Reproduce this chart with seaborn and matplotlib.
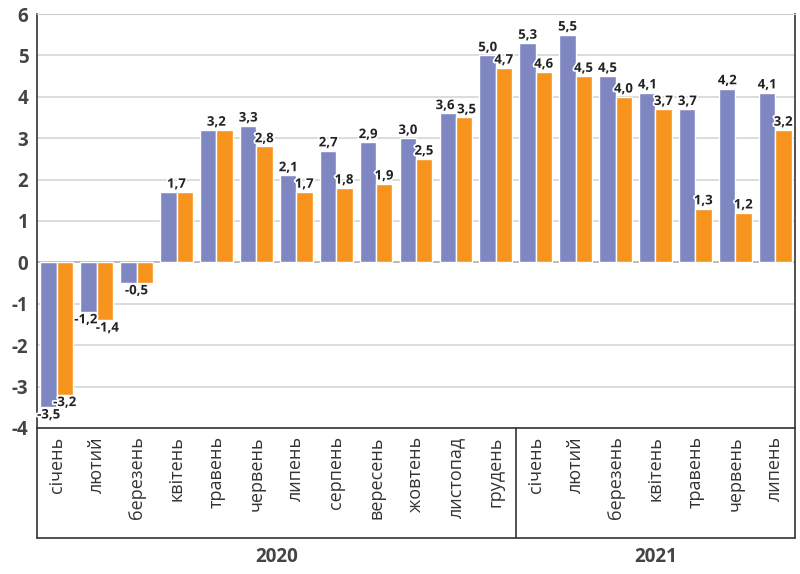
import seaborn as sns
import matplotlib.pyplot as plt
import matplotlib.patheffects as pe
import pandas as pd

# monthly values, 2020-01 .. 2021-07
months = ["січень", "лютий", "березень", "квітень", "травень", "червень", "липень",
          "серпень", "вересень", "жовтень", "листопад", "грудень",
          "січень", "лютий", "березень", "квітень", "травень", "червень", "липень"]
years = ["2020", "2021"]
months_per_year = [12, 7]
series_a = [-3.5, -1.2, -0.5, 1.7, 3.2, 3.3, 2.1, 2.7, 2.9, 3.0, 3.6, 5.0,
            5.3, 5.5, 4.5, 4.1, 3.7, 4.2, 4.1]
series_b = [-3.2, -1.4, -0.5, 1.7, 3.2, 2.8, 1.7, 1.8, 1.9, 2.5, 3.5, 4.7,
            4.6, 4.5, 4.0, 3.7, 1.3, 1.2, 3.2]
yticks = [-4, -3, -2, -1, 0, 1, 2, 3, 4, 5, 6]

sns.set_style("white")
plt.rcParams['font.family'] = ['Open Sans', 'DejaVu Sans']

n = len(months)
df = pd.DataFrame({
    "pos": list(range(n)) * 2,
    "value": series_a + series_b,
    "series": ["a"] * n + ["b"] * n,
})

fig = plt.figure(figsize=(8, 5.74), dpi=100)
ax = fig.add_axes([0.046, 0.2544, 0.948, 0.7212])

for y in yticks:
    ax.axhline(y, color="#d9d9d9" if y != 0 else "#b5b5b5", lw=1.3, zorder=0)

sns.barplot(data=df, x="pos", y="value", hue="series", order=list(range(n)),
            palette=["#7f87c3", "#f7941d"], width=0.82, saturation=1,
            legend=False, ax=ax, zorder=2)

ax.set_xlim(-0.5, n - 0.5)
ax.set_ylim(-4, 6)
ax.set_yticks(yticks)
ax.set_yticklabels([str(t) for t in yticks], fontsize=13.5, fontweight="bold", color="#444")
ax.tick_params(axis="y", length=0, pad=6)
ax.set_xticks(range(n))
ax.set_xticklabels(months, rotation=90, va="top", fontsize=13, color="#333")
ax.tick_params(axis="x", length=0, pad=6)
ax.set_xlabel("")
ax.set_ylabel("")

for s in ["left", "bottom", "right"]:
    ax.spines[s].set_color("#333")
    ax.spines[s].set_linewidth(1.2)
ax.spines["top"].set_color("#d0d0d0")

# value labels
halo = [pe.withStroke(linewidth=2.5, foreground="white")]
def lbl(x, v, dy=0.0):
    txt = f"{v:.1f}".replace(".", ",")
    va = "bottom" if v >= 0 else "top"
    off = 0.03 if v >= 0 else -0.03
    ax.text(x, v + off + dy, txt, ha="center", va=va, fontsize=9.5, fontweight="bold",
            color="#222", path_effects=halo, zorder=5)

for i in range(n):
    a, b = series_a[i], series_b[i]
    if a == b:
        lbl(i, a)
    elif abs(a - b) < 0.25:
        # close values: spread labels sideways
        lbl(i - 0.27, a)
        lbl(i + 0.27, b)
    else:
        lbl(i - 0.2, a)
        lbl(i + 0.2, b)

# category box below the axis, split by year
trans = ax.get_xaxis_transform()
box_bottom = -0.2665
ax.plot([-0.5, -0.5], [0, box_bottom], transform=trans, color="#333", lw=1.2, clip_on=False)
ax.plot([n - 0.5, n - 0.5], [0, box_bottom], transform=trans, color="#333", lw=1.2, clip_on=False)
ax.plot([-0.5, n - 0.5], [box_bottom, box_bottom], transform=trans, color="#333", lw=1.2, clip_on=False)
start = 0
for yr, cnt in zip(years, months_per_year):
    mid = start + (cnt - 1) / 2
    ax.text(mid, box_bottom - 0.02, yr, transform=trans, ha="center", va="top",
            fontsize=13.5, fontweight="bold", color="#444")
    start += cnt
    if start < n:
        ax.plot([start - 0.5, start - 0.5], [0, box_bottom], transform=trans,
                color="#333", lw=1.2, clip_on=False)

fig.savefig("out.png", dpi=100)
